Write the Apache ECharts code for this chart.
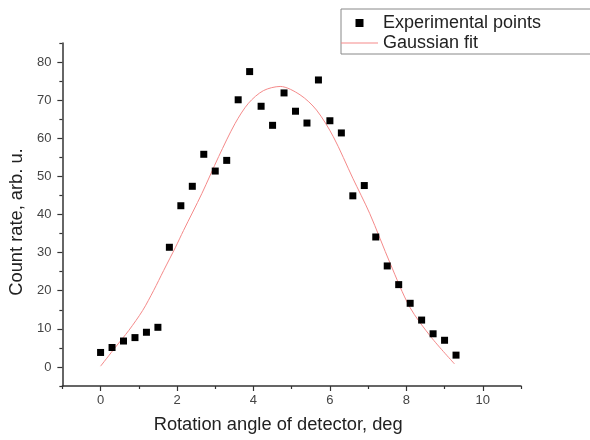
<!DOCTYPE html>
<html>
<head>
<meta charset="utf-8">
<script src="https://cdn.jsdelivr.net/npm/echarts@6/dist/echarts.min.js"></script>
<style>
html,body{margin:0;padding:0;background:#fff;}
#c{width:590px;height:440px;}
</style>
</head>
<body>
<div id="c"></div>
<script>
// Experimental points
const expX = [0, 0.3, 0.6, 0.9, 1.2, 1.5, 1.8, 2.1, 2.4, 2.7, 3.0, 3.3, 3.6, 3.9, 4.2, 4.5,
              4.8, 5.1, 5.4, 5.7, 6.0, 6.3, 6.6, 6.9, 7.2, 7.5, 7.8, 8.1, 8.4, 8.7, 9.0, 9.3];
const expY = [3.8, 5.1, 6.8, 7.7, 9.1, 10.4, 31.4, 42.3, 47.4, 55.8, 51.4, 54.2, 70.1, 77.5, 68.4, 63.4,
              71.9, 67.1, 64.0, 75.3, 64.6, 61.4, 44.9, 47.6, 34.1, 26.5, 21.6, 16.7, 12.3, 8.7, 7.0, 3.1];
// Gaussian fit curve
const fitX = [0, 0.39, 0.74, 1.10, 1.39, 1.65, 1.96, 2.17, 2.65, 3.09, 3.52, 3.87, 4.26, 4.70,
              5.22, 5.65, 6.09, 6.60, 7.04, 7.58, 8.09, 8.65, 9.26];
const fitY = [0.2, 5.2, 9.6, 14.8, 20.1, 25.3, 31.4, 35.8, 45.5, 55.2, 63.9, 69.2, 72.5, 73.6,
              71.4, 67.4, 60.4, 49.5, 40.3, 27.1, 15.7, 7.8, 0.8];
// Ticks
const xMajor = [0, 2, 4, 6, 8, 10];
const xMinor = [-1, 1, 3, 5, 7, 9, 11];
const yMajor = [0, 10, 20, 30, 40, 50, 60, 70, 80];
const yMinor = [-5, 5, 15, 25, 35, 45, 55, 65, 75, 85];
const seriesNames = ['Experimental points', 'Gaussian fit'];
const xTitle = 'Rotation angle of detector, deg';
const yTitle = 'Count rate, arb. u.';

const FONT = 'Liberation Sans, Arial, sans-serif';
const AX = '#333';
const FIT = '#f58a8a';
const chart = echarts.init(document.getElementById('c'), null, {renderer: 'canvas'});

const baseX = {type: 'value', min: -1, max: 11, interval: 1, position: 'bottom', splitLine: {show: false}};
const baseY = {type: 'value', min: -5, max: 85, interval: 5, position: 'left', splitLine: {show: false}};

chart.setOption({
  animation: false,
  backgroundColor: '#fff',
  grid: {left: 62, right: 69, top: 43, bottom: 54},
  legend: {
    left: 341, top: 9, orient: 'vertical',
    padding: [4, 61, 1, 0],
    itemGap: 0, itemWidth: 37, itemHeight: 8,
    symbolKeepAspect: true,
    borderColor: '#888', borderWidth: 1,
    textStyle: {fontFamily: FONT, fontSize: 18, color: '#222', lineHeight: 20},
    data: [
      {name: seriesNames[0], icon: 'path://M0,0L1,0L1,1L0,1Z'},
      {name: seriesNames[1], icon: 'path://M0,0L37,0L37,1L0,1Z'}
    ]
  },
  xAxis: [
    Object.assign({}, baseX, {
      name: xTitle, nameLocation: 'middle', nameGap: 30,
      nameTextStyle: {fontFamily: FONT, fontSize: 18.3, color: '#222', padding: [0, 27, 0, 0]},
      axisLine: {show: true, onZero: false, lineStyle: {color: AX, width: 1.5}},
      axisTick: {show: true, length: 5, customValues: xMajor, lineStyle: {color: AX, width: 1.2}},
      axisLabel: {customValues: xMajor, margin: 8, fontFamily: FONT, fontSize: 13, color: '#444'}
    }),
    Object.assign({}, baseX, {
      axisLine: {show: false, onZero: false},
      axisTick: {show: true, length: 3, customValues: xMinor, lineStyle: {color: AX, width: 1.2}},
      axisLabel: {show: false}
    })
  ],
  yAxis: [
    Object.assign({}, baseY, {
      name: yTitle, nameLocation: 'middle', nameGap: 35, nameRotate: 90,
      nameTextStyle: {fontFamily: FONT, fontSize: 18.3, color: '#222', padding: [0, 15, 0, 0]},
      axisLine: {show: true, onZero: false, lineStyle: {color: AX, width: 1.5}},
      axisTick: {show: true, length: 5, customValues: yMajor, lineStyle: {color: AX, width: 1.2}},
      axisLabel: {customValues: yMajor, margin: 11, fontFamily: FONT, fontSize: 13, color: '#444'}
    }),
    Object.assign({}, baseY, {
      axisLine: {show: false, onZero: false},
      axisTick: {show: true, length: 3, customValues: yMinor, lineStyle: {color: AX, width: 1.2}},
      axisLabel: {show: false}
    })
  ],
  series: [
    {
      name: seriesNames[0], type: 'scatter', symbol: 'rect', symbolSize: 7,
      itemStyle: {color: '#000', opacity: 1},
      data: expX.map((x, i) => [x, expY[i]]),
      z: 3
    },
    {
      name: seriesNames[1], type: 'line', symbol: 'none', smooth: 0.3,
      lineStyle: {color: FIT, width: 1},
      itemStyle: {color: FIT},
      data: fitX.map((x, i) => [x, fitY[i]]),
      z: 2
    }
  ]
});
</script>
</body>
</html>
